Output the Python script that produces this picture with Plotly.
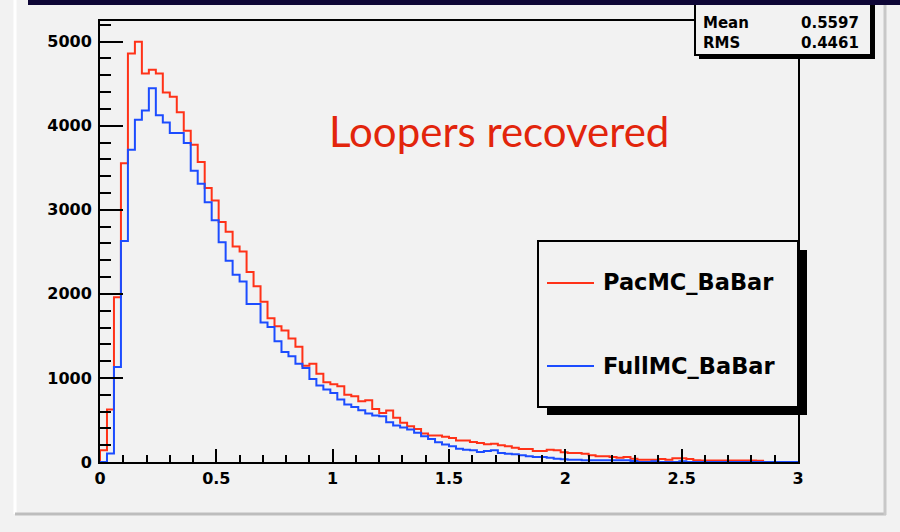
import numpy as np
import plotly.graph_objects as go

# ---------------- data ----------------
x_min, x_max, n_bins = 0.0, 3.0, 100

pacmc_babar = [
    140, 625, 1960, 3555, 4860, 5000, 4620, 4665, 4620, 4395,
    4345, 4160, 3940, 3775, 3570, 3260, 3110, 2855, 2740, 2565,
    2505, 2260, 2090, 1905, 1710, 1615, 1565, 1470, 1370, 1145,
    1170, 1050, 950, 925, 900, 800, 782, 722, 734, 631,
    584, 612, 525, 466, 426, 394, 339, 315, 315, 299,
    286, 257, 257, 238, 226, 210, 218, 198, 186, 170,
    154, 154, 130, 130, 146, 139, 115, 107, 107, 99,
    79, 67, 67, 59, 51, 59, 40, 28, 28, 28,
    36, 28, 44, 44, 36, 20, 18, 18, 18, 18,
    18, 18, 18, 18, 15, 0, 0, 0, 0, 0,
]

fullmc_babar = [
    0, 100, 1130, 2630, 3715, 4070, 4180, 4445, 4125, 4040,
    3915, 3915, 3795, 3465, 3310, 3090, 2875, 2615, 2393, 2227,
    2148, 1879, 1879, 1660, 1606, 1435, 1309, 1257, 1170, 1119,
    988, 909, 861, 822, 742, 683, 655, 616, 576, 553,
    545, 474, 434, 410, 386, 347, 307, 275, 236, 208,
    188, 158, 146, 139, 119, 130, 139, 107, 99, 91,
    79, 67, 59, 59, 51, 40, 32, 28, 28, 20,
    20, 20, 20, 20, 20, 20, 12, 0, 0, 8,
    0, 0, 0, 8, 0, 0, 0, 0, 0, 0,
    0, 0, 0, 0, 0, 0, 0, 0, 0, 0,
]

series_names = ["PacMC_BaBar", "FullMC_BaBar"]
x_tick_vals = [0, 0.5, 1, 1.5, 2, 2.5, 3]
x_tick_text = ["0", "0.5", "1", "1.5", "2", "2.5", "3"]
y_tick_vals = [0, 1000, 2000, 3000, 4000, 5000]
y_tick_text = ["0", "1000", "2000", "3000", "4000", "5000"]
stats_labels = ["Mean", "RMS"]
stats_values = ["0.5597", "0.4461"]
annotation_text = "Loopers recovered"

# ---------------- styling ----------------
RED = "#ff3218"
BLUE = "#1c4cff"
BG = "#f2f2f2"
W, H = 900, 532
PL, PR, PT, PB = 100, 798, 21, 462  # plot area in pixels
Y_TOP = 5246


def fx(px):
    return (px - PL) / (PR - PL)


def fy(py):
    return (PB - py) / (PB - PT)


edges = np.linspace(x_min, x_max, n_bins + 1)


def step_xy(vals):
    xs = [edges[0]] + list(edges[:-1]) + [edges[-1], edges[-1]]
    ys = [0] + list(vals) + [vals[-1], 0]
    return xs, ys


fig = go.Figure()
for vals, col, name in [(pacmc_babar, RED, series_names[0]), (fullmc_babar, BLUE, series_names[1])]:
    xs, ys = step_xy(vals)
    fig.add_trace(go.Scatter(x=xs, y=ys, mode="lines", line=dict(color=col, width=2, shape="hv"),
                             name=name, showlegend=False, hoverinfo="skip"))

# hidden "Entries" row of stats box (mostly covered by the top band)
fig.add_trace(go.Scatter(x=[(701 - PL) / (PR - PL) * 3], y=[(PB - 0) / (PB - PT) * Y_TOP],
                         mode="text", text=["Entries"], textposition="middle right",
                         textfont=dict(family="DejaVu Sans", size=15, color="black", weight="bold"),
                         cliponaxis=False, showlegend=False, hoverinfo="skip"))

tickfont = dict(family="DejaVu Sans", size=16, color="black", weight="bold")
fig.update_xaxes(range=[x_min, x_max], tickvals=x_tick_vals, ticktext=x_tick_text,
                 ticks="inside", ticklen=13, tickwidth=2, tickcolor="black",
                 minor=dict(dtick=0.1, ticks="inside", ticklen=7, tickwidth=2, tickcolor="black"),
                 showline=True, linecolor="black", linewidth=2, mirror=True,
                 showgrid=False, zeroline=False, tickfont=tickfont, ticklabelstandoff=1)
fig.update_yaxes(range=[0, Y_TOP], tickvals=y_tick_vals, ticktext=y_tick_text,
                 ticks="inside", ticklen=23, tickwidth=2, tickcolor="black",
                 minor=dict(dtick=200, ticks="inside", ticklen=11, tickwidth=2, tickcolor="black"),
                 showline=True, linecolor="black", linewidth=2, mirror=True,
                 showgrid=False, zeroline=False, tickfont=tickfont, ticklabelstandoff=3)

shapes = []
# canvas frame
shapes.append(dict(type="line", xref="paper", yref="paper", x0=fx(15), x1=fx(15), y0=fy(0), y1=fy(514),
                   line=dict(color="white", width=3), layer="above"))
shapes.append(dict(type="line", xref="paper", yref="paper", x0=fx(15), x1=fx(886), y0=fy(514), y1=fy(514),
                   line=dict(color="#bdbdbd", width=3), layer="above"))
shapes.append(dict(type="line", xref="paper", yref="paper", x0=fx(885), x1=fx(885), y0=fy(0), y1=fy(515),
                   line=dict(color="#c8c8c8", width=3), layer="above"))
# stats box shadow and box
shapes.append(dict(type="rect", xref="paper", yref="paper", x0=fx(699), x1=fx(875), y0=fy(-20), y1=fy(59),
                   line=dict(width=0), fillcolor="black", layer="above"))
shapes.append(dict(type="rect", xref="paper", yref="paper", x0=fx(695), x1=fx(871), y0=fy(-20), y1=fy(55),
                   line=dict(color="black", width=2), fillcolor=BG, layer="above"))
# legend shadow and box
shapes.append(dict(type="rect", xref="paper", yref="paper", x0=fx(547), x1=fx(807), y0=fy(250), y1=fy(415),
                   line=dict(width=0), fillcolor="black", layer="above"))
shapes.append(dict(type="rect", xref="paper", yref="paper", x0=fx(538), x1=fx(798), y0=fy(241), y1=fy(407),
                   line=dict(color="black", width=2), fillcolor=BG, layer="above"))
# legend sample lines
for col, ly in [(RED, 283), (BLUE, 366)]:
    shapes.append(dict(type="line", xref="paper", yref="paper", x0=fx(547), x1=fx(594), y0=fy(ly), y1=fy(ly),
                       line=dict(color=col, width=2), layer="above"))
# top band
shapes.append(dict(type="rect", xref="paper", yref="paper", x0=fx(28), x1=fx(905), y0=fy(-5), y1=fy(5),
                   line=dict(width=0), fillcolor="#0e0636", layer="above"))

annotations = []
legfont = dict(family="DejaVu Sans", size=22.5, color="black", weight="bold")
for name, ly in zip(series_names, [282, 366]):
    annotations.append(dict(text=name, xref="paper", yref="paper", x=fx(601), y=fy(ly),
                            xanchor="left", yanchor="middle", showarrow=False, font=legfont))
statfont = dict(family="DejaVu Sans", size=15, color="black", weight="bold")
for lab, val, sy in zip(stats_labels, stats_values, [23, 43]):
    annotations.append(dict(text=lab, xref="paper", yref="paper", x=fx(701), y=fy(sy),
                            xanchor="left", yanchor="middle", showarrow=False, font=statfont))
    annotations.append(dict(text=val, xref="paper", yref="paper", x=fx(861), y=fy(sy),
                            xanchor="right", yanchor="middle", showarrow=False, font=statfont))
annotations.append(dict(text=annotation_text, xref="paper", yref="paper", x=fx(327), y=fy(131),
                        xanchor="left", yanchor="middle", showarrow=False,
                        font=dict(family="Lato", size=42, color="#e2250c")))

fig.update_layout(width=W, height=H, margin=dict(l=PL, r=W - PR, t=PT, b=H - PB, pad=0),
                  paper_bgcolor=BG, plot_bgcolor=BG, shapes=shapes, annotations=annotations,
                  showlegend=False)

fig.write_html("out.html", config={"displayModeBar": False},
               post_script="document.body.style.margin='0';document.body.style.background='#f2f2f2';")
